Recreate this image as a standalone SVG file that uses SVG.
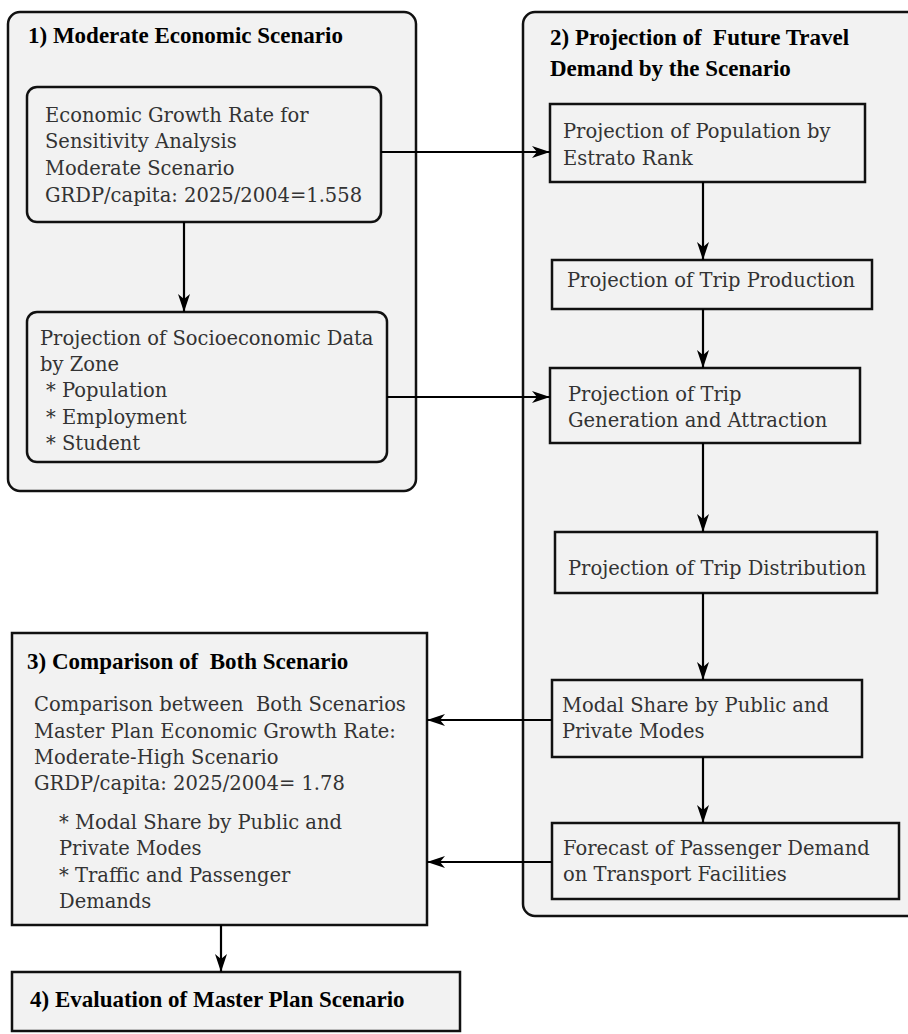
<svg xmlns="http://www.w3.org/2000/svg" width="908" height="1034" viewBox="0 0 908 1034">
  <style>
    .frame { fill: #f2f2f2; stroke: #111; stroke-width: 2.5; }
    .box { fill: #f2f2f2; stroke: #111; stroke-width: 2.5; }
    .title { font-family: "Liberation Serif", "Times New Roman", serif; font-size: 23px; font-weight: bold; fill: #000; white-space: pre; }
    .body { font-family: "DejaVu Serif", "Liberation Serif", serif; font-size: 19.5px; fill: #333; white-space: pre; }
    .link { fill: none; stroke: #000; stroke-width: 2.2; marker-end: url(#arrow); }
  </style>
  <defs>
    <marker id="arrow" markerUnits="userSpaceOnUse" markerWidth="20" markerHeight="14" refX="18" refY="6" orient="auto">
      <path d="M0,0 L18,6 L0,12 L5,6 Z" fill="#000"/>
    </marker>
  </defs>
  <rect width="908" height="1034" fill="#fff"/>

  <!-- 1) moderate economic scenario frame -->
  <g id="scenario-frame">
    <rect class="frame" x="8" y="12" width="408" height="479" rx="12"/>
    <text class="title" x="28" y="43">1) Moderate Economic Scenario</text>
  </g>
  <g id="growth-rate">
    <rect class="box" x="27" y="87" width="354" height="135" rx="10"/>
    <text class="body" x="45" y="122">Economic Growth Rate for</text>
    <text class="body" x="45" y="148">Sensitivity Analysis</text>
    <text class="body" x="45" y="175">Moderate Scenario</text>
    <text class="body" x="45" y="202">GRDP/capita: 2025/2004=1.558</text>
  </g>
  <g id="socioeconomic">
    <rect class="box" x="27" y="312" width="360" height="150" rx="10"/>
    <text class="body" x="40" y="345">Projection of Socioeconomic Data</text>
    <text class="body" x="40" y="371">by Zone</text>
    <text class="body" x="46" y="397">* Population</text>
    <text class="body" x="46" y="424">* Employment</text>
    <text class="body" x="46" y="450">* Student</text>
  </g>

  <!-- 2) travel demand projection frame -->
  <g id="projection-frame">
    <rect class="frame" x="523" y="12" width="420" height="904" rx="12"/>
    <text class="title" x="550" y="45">2) Projection of  Future Travel</text>
    <text class="title" x="550" y="76">Demand by the Scenario</text>
  </g>
  <g id="population">
    <rect class="box" x="550" y="104" width="315" height="78"/>
    <text class="body" x="563" y="138">Projection of Population by</text>
    <text class="body" x="563" y="165">Estrato Rank</text>
  </g>
  <g id="trip-production">
    <rect class="box" x="552" y="260" width="320" height="49"/>
    <text class="body" x="567" y="287">Projection of Trip Production</text>
  </g>
  <g id="generation-attraction">
    <rect class="box" x="550" y="368" width="310" height="75"/>
    <text class="body" x="568" y="401">Projection of Trip</text>
    <text class="body" x="568" y="427">Generation and Attraction</text>
  </g>
  <g id="trip-distribution">
    <rect class="box" x="555" y="532" width="322" height="61"/>
    <text class="body" x="568" y="575">Projection of Trip Distribution</text>
  </g>
  <g id="modal-share">
    <rect class="box" x="552" y="680" width="310" height="77"/>
    <text class="body" x="562" y="712">Modal Share by Public and</text>
    <text class="body" x="562" y="738">Private Modes</text>
  </g>
  <g id="passenger-demand">
    <rect class="box" x="552" y="823" width="347" height="76"/>
    <text class="body" x="563" y="855">Forecast of Passenger Demand</text>
    <text class="body" x="563" y="881">on Transport Facilities</text>
  </g>

  <!-- 3) comparison -->
  <g id="comparison">
    <rect class="box" x="12" y="633" width="415" height="292"/>
    <text class="title" x="27" y="669">3) Comparison of  Both Scenario</text>
    <text class="body" x="34" y="711">Comparison between  Both Scenarios</text>
    <text class="body" x="34" y="738">Master Plan Economic Growth Rate:</text>
    <text class="body" x="34" y="764">Moderate-High Scenario</text>
    <text class="body" x="34" y="790">GRDP/capita: 2025/2004= 1.78</text>
    <text class="body" x="59" y="829">* Modal Share by Public and</text>
    <text class="body" x="59" y="855">Private Modes</text>
    <text class="body" x="59" y="882">* Traffic and Passenger</text>
    <text class="body" x="59" y="908">Demands</text>
  </g>

  <!-- 4) evaluation -->
  <g id="evaluation">
    <rect class="box" x="12" y="972" width="448" height="59"/>
    <text class="title" x="30" y="1007">4) Evaluation of Master Plan Scenario</text>
  </g>

  <!-- connectors -->
  <g id="connectors">
    <line class="link" x1="184" y1="222" x2="184" y2="312"/>
    <line class="link" x1="381" y1="152" x2="550" y2="152"/>
    <line class="link" x1="387" y1="397" x2="550" y2="397"/>
    <line class="link" x1="703" y1="182" x2="703" y2="260"/>
    <line class="link" x1="703" y1="309" x2="703" y2="368"/>
    <line class="link" x1="703" y1="443" x2="703" y2="532"/>
    <line class="link" x1="703" y1="593" x2="703" y2="680"/>
    <line class="link" x1="703" y1="757" x2="703" y2="823"/>
    <line class="link" x1="552" y1="720" x2="427" y2="720"/>
    <line class="link" x1="552" y1="862" x2="427" y2="862"/>
    <line class="link" x1="221" y1="925" x2="221" y2="972"/>
  </g>
</svg>
